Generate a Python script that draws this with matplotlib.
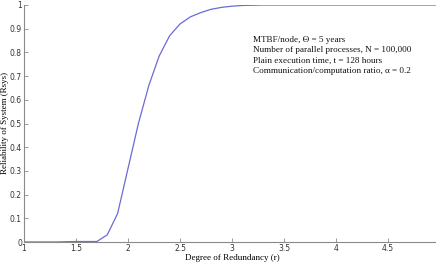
import matplotlib
matplotlib.use('Agg')
import matplotlib.pyplot as plt

# degree of redundancy vs. system reliability
r = [1.0, 1.1, 1.2, 1.3, 1.4, 1.5, 1.6, 1.7, 1.8, 1.9,
     2.0, 2.1, 2.2, 2.3, 2.4, 2.5, 2.6, 2.7, 2.8, 2.9,
     3.0, 3.1, 3.2, 3.3, 3.4, 3.5, 3.6, 3.7, 3.8, 3.9,
     4.0, 4.1, 4.2, 4.3, 4.4, 4.5, 4.6, 4.7, 4.8, 4.9, 5.0]
rsys = [0.0, 0.0, 0.0, 0.0, 0.001, 0.002, 0.002, 0.002, 0.03, 0.12,
        0.31, 0.50, 0.66, 0.785, 0.87, 0.92, 0.95, 0.968, 0.982, 0.99,
        0.995, 0.998, 0.999, 1.0, 1.0, 1.0, 1.0, 1.0, 1.0, 1.0,
        1.0, 1.0, 1.0, 1.0, 1.0, 1.0, 1.0, 1.0, 1.0, 1.0, 1.0]

xticks = [1, 1.5, 2, 2.5, 3, 3.5, 4, 4.5]
yticks = [0, 0.1, 0.2, 0.3, 0.4, 0.5, 0.6, 0.7, 0.8, 0.9, 1]

info = ['MTBF/node, \u0398 = 5 years',
        'Number of parallel processes, N = 100,000',
        'Plain execution time, t = 128 hours',
        'Communication/computation ratio, \u03b1 = 0.2']

W, H = 436, 264
fig = plt.figure(figsize=(W / 100, H / 100), dpi=100)
ax = fig.add_axes([24 / W, 22 / H, 416 / W, 237 / H])

ax.plot(r, rsys, color='#6a6ad8', linewidth=0.9)

ax.set_xlim(1, 5)
ax.set_ylim(0, 1)
ax.set_xticks(xticks)
ax.set_xticklabels([f'{t:g}' for t in xticks])
ax.set_yticks(yticks)
ax.set_yticklabels([f'{t:g}' for t in yticks])

for s in ['top', 'right']:
    ax.spines[s].set_visible(False)
for s in ['left', 'bottom']:
    ax.spines[s].set_color('#8a8a8a')
    ax.spines[s].set_linewidth(0.8)

ax.tick_params(direction='in', length=3, width=0.6, color='#8a8a8a',
               labelsize=5.5, labelcolor='#333333', pad=1.5)

serif = ['Liberation Serif', 'DejaVu Serif']
ax.set_xlabel('Degree of Redundancy (r)', family=serif, fontsize=6.5, labelpad=1)
fig.text(5.5 / W, 1 - 123 / H, 'Reliability of System (Rsys)', family=serif,
         fontsize=6.5, rotation=90, ha='center', va='center')

y0 = 40
for i, line in enumerate(info):
    fig.text(253 / W, 1 - (y0 + i * 10.5) / H, line, family=serif, fontsize=6.6,
             va='center', ha='left', color='#111111')

fig.savefig('out.png', dpi=100)
